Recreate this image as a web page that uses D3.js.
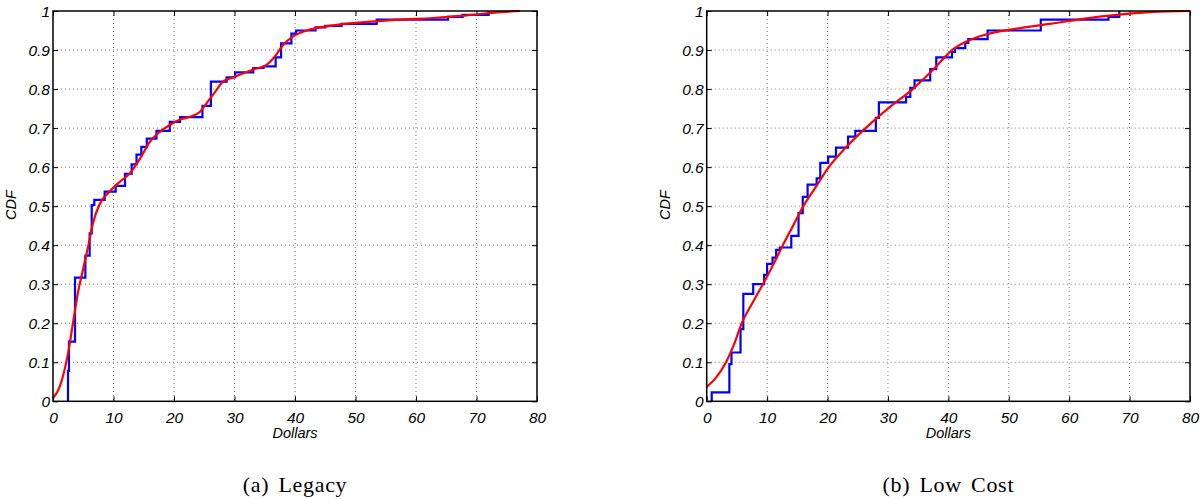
<!DOCTYPE html>
<html>
<head>
<meta charset="utf-8">
<script src="https://cdn.jsdelivr.net/npm/d3@7"></script>
<style>
  html, body { margin: 0; padding: 0; background: #fff; }
  svg { display: block; }
</style>
</head>
<body>
<svg id="chart" width="1203" height="499"></svg>
<script>
// ---- Data ----
const xTicks = [0, 10, 20, 30, 40, 50, 60, 70, 80];
const yTicks = [0, 0.1, 0.2, 0.3, 0.4, 0.5, 0.6, 0.7, 0.8, 0.9, 1];
const yTickLabels = ["0", "0.1", "0.2", "0.3", "0.4", "0.5", "0.6", "0.7", "0.8", "0.9", "1"];
const panelCaptions = ["(a) Legacy", "(b) Low Cost"];
const xLabel = "Dollars";
const yLabel = "CDF";

// (a) Legacy: empirical CDF (step) points
const legacyStepX = [2.48, 2.48, 2.64, 3.64, 5.35, 6.06, 6.4, 6.83, 8.54, 10.36, 11.9, 13.0, 13.8, 14.6, 15.5, 17.1, 19.3, 21.0, 24.7, 26.1, 28.7, 30.1, 33.1, 34.8, 36.8, 37.7, 39.4, 40.2, 43.4, 45.0, 47.7, 53.5, 65.3, 67.7, 72.0];
const legacyStepY = [0, 0.078, 0.153, 0.317, 0.373, 0.43, 0.503, 0.516, 0.537, 0.552, 0.583, 0.607, 0.632, 0.652, 0.673, 0.693, 0.716, 0.728, 0.757, 0.819, 0.83, 0.843, 0.854, 0.858, 0.881, 0.917, 0.942, 0.95, 0.958, 0.962, 0.967, 0.978, 0.985, 0.99, 1.0];
// (a) Legacy: fitted smooth CDF
const legacyFitX = [0, 1.1, 2.5, 3.3, 4.1, 5.0, 5.8, 6.6, 7.7, 9.2, 11, 12.7, 14.4, 16, 17.7, 19.3, 21, 22.6, 24.3, 25.4, 26.8, 28.1, 29.8, 33.1, 35.3, 36.7, 38.1, 39.7, 41.9, 46.3, 51.9, 57.4, 62.8, 68.4, 73.9, 77.2];
const legacyFitY = [0.008, 0.037, 0.124, 0.2, 0.277, 0.34, 0.396, 0.456, 0.505, 0.535, 0.562, 0.584, 0.622, 0.665, 0.691, 0.708, 0.722, 0.729, 0.742, 0.764, 0.793, 0.819, 0.83, 0.85, 0.862, 0.884, 0.914, 0.935, 0.95, 0.963, 0.972, 0.978, 0.982, 0.989, 0.997, 1.0];

// (b) Low Cost: empirical CDF (step) points
const lowStepX = [0.83, 0.83, 3.75, 4.1, 5.6, 6.06, 7.7, 9.5, 10.0, 10.9, 11.5, 12.1, 14.0, 15.2, 15.9, 16.7, 18.2, 18.8, 20.1, 21.4, 23.4, 24.6, 28.0, 28.5, 33.0, 33.7, 34.4, 37.0, 38.0, 40.6, 41.1, 42.8, 43.3, 46.5, 55.3, 66.5, 68.3];
const lowStepY = [0, 0.023, 0.095, 0.125, 0.185, 0.275, 0.30, 0.324, 0.352, 0.368, 0.388, 0.394, 0.424, 0.482, 0.524, 0.555, 0.571, 0.611, 0.627, 0.65, 0.678, 0.693, 0.726, 0.766, 0.78, 0.803, 0.822, 0.851, 0.881, 0.895, 0.905, 0.918, 0.928, 0.95, 0.978, 0.985, 1.0];
// (b) Low Cost: fitted smooth CDF
const lowFitX = [0, 1.5, 3.2, 4.5, 5.8, 7.5, 9.3, 11, 12.6, 14.3, 16.0, 18.1, 20.2, 23.0, 26.3, 30.0, 34.1, 37.5, 40.6, 43.0, 45.8, 48.6, 51.3, 56.8, 62.3, 67.9, 73.4, 80];
const lowFitY = [0.037, 0.06, 0.1, 0.145, 0.2, 0.25, 0.3, 0.35, 0.4, 0.45, 0.5, 0.55, 0.6, 0.65, 0.7, 0.75, 0.8, 0.85, 0.9, 0.922, 0.938, 0.948, 0.955, 0.967, 0.98, 0.99, 0.997, 1.0];

// ---- Drawing ----
const svg = d3.select("#chart");
const tickFont = "'Liberation Sans', Arial, Helvetica, sans-serif";

const panels = [
  { left: 53, right: 537, caption: panelCaptions[0], stepX: legacyStepX, stepY: legacyStepY, fitX: legacyFitX, fitY: legacyFitY },
  { left: 706.7, right: 1190, caption: panelCaptions[1], stepX: lowStepX, stepY: lowStepY, fitX: lowFitX, fitY: lowFitY }
];
const plotTop = 11, plotBottom = 401.3;

panels.forEach(p => {
  const x = d3.scaleLinear().domain([0, 80]).range([p.left, p.right]);
  const y = d3.scaleLinear().domain([0, 1]).range([plotBottom, plotTop]);
  const g = svg.append("g");

  // grid
  g.append("g").selectAll("line").data(xTicks.slice(1, -1)).join("line")
    .attr("x1", d => x(d)).attr("x2", d => x(d)).attr("y1", plotTop).attr("y2", plotBottom)
    .attr("stroke", "#777").attr("stroke-width", 1).attr("stroke-dasharray", "1,3");
  g.append("g").selectAll("line").data(yTicks.slice(1, -1)).join("line")
    .attr("y1", d => y(d)).attr("y2", d => y(d)).attr("x1", p.left).attr("x2", p.right)
    .attr("stroke", "#777").attr("stroke-width", 1).attr("stroke-dasharray", "1,3");

  // axes (D3 axes with inward ticks on all four sides)
  const tl = 5;
  const axB = d3.axisBottom(x).tickValues(xTicks).tickSizeInner(-tl).tickSizeOuter(0).tickFormat(d3.format("d"));
  const axT = d3.axisTop(x).tickValues(xTicks).tickSizeInner(-tl).tickSizeOuter(0).tickFormat("");
  const axL = d3.axisLeft(y).tickValues(yTicks).tickSizeInner(-tl).tickSizeOuter(0).tickFormat((d, i) => yTickLabels[i]);
  const axR = d3.axisRight(y).tickValues(yTicks).tickSizeInner(-tl).tickSizeOuter(0).tickFormat("");

  const gb = g.append("g").attr("transform", `translate(0,${plotBottom})`).call(axB);
  const gt = g.append("g").attr("transform", `translate(0,${plotTop})`).call(axT);
  const gl = g.append("g").attr("transform", `translate(${p.left},0)`).call(axL);
  const gr = g.append("g").attr("transform", `translate(${p.right},0)`).call(axR);
  [gb, gt, gl, gr].forEach(a => {
    a.select(".domain").remove();
    a.selectAll(".tick line").attr("stroke", "#000").attr("stroke-width", 1);
    a.selectAll("text").attr("font-family", tickFont).attr("font-style", "italic")
      .attr("font-size", 15.5).attr("fill", "#000");
  });
  gb.selectAll(".tick text").attr("y", 16).attr("dy", "0.35em");
  gl.selectAll(".tick text").attr("x", -3).attr("dy", "0.35em");

  // series
  const pts = (xs, ys) => xs.map((v, i) => [v, ys[i]]);
  g.append("path").datum(pts(p.stepX, p.stepY))
    .attr("d", d3.line().x(d => x(d[0])).y(d => y(d[1])).curve(d3.curveStepAfter))
    .attr("fill", "none").attr("stroke", "#0000ff").attr("stroke-width", 2.2);
  g.append("path").datum(pts(p.fitX, p.fitY))
    .attr("d", d3.line().x(d => x(d[0])).y(d => y(d[1])).curve(d3.curveMonotoneX))
    .attr("fill", "none").attr("stroke", "#ff0000").attr("stroke-width", 2.2);

  // frame
  g.append("rect").attr("x", p.left).attr("y", plotTop).attr("width", p.right - p.left).attr("height", plotBottom - plotTop)
    .attr("fill", "none").attr("stroke", "#000").attr("stroke-width", 1.5);

  // labels
  const cx = (p.left + p.right) / 2;
  g.append("text").attr("x", cx).attr("y", 438).attr("text-anchor", "middle")
    .attr("font-family", tickFont).attr("font-style", "italic").attr("font-size", 14.5).text(xLabel);
  g.append("text").attr("transform", `translate(${p.left - 37},205) rotate(-90)`).attr("text-anchor", "middle")
    .attr("font-family", tickFont).attr("font-style", "italic").attr("font-size", 14.5).text(yLabel);
  g.append("text").attr("x", cx).attr("y", 492).attr("text-anchor", "middle")
    .attr("font-family", "'Liberation Serif', 'DejaVu Serif', serif").attr("font-size", 22)
    .attr("letter-spacing", 0.7).attr("word-spacing", 3).text(p.caption);
});
</script>
</body>
</html>
